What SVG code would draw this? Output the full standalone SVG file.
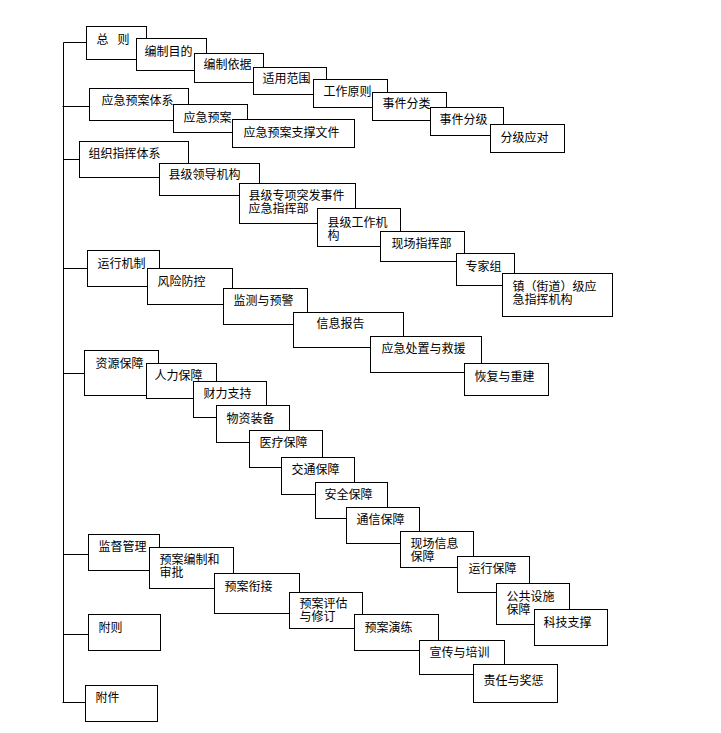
<svg xmlns="http://www.w3.org/2000/svg" width="721" height="733" viewBox="0 0 721 733">
<style>
rect{fill:#fff;stroke:#000;stroke-width:1}
.c line{stroke:#000;stroke-width:1}
text{font-family:"Noto Sans CJK SC","Liberation Sans",sans-serif;font-size:12px;fill:#000}
</style>
<rect x="0" y="0" width="721" height="733" style="stroke:none"/>
<g transform="translate(0.5 0.5)">
<g id="connectors" class="c">
<line x1="63" y1="42" x2="63" y2="702"/>
<line x1="63" y1="42" x2="86" y2="42"/>
<line x1="62" y1="106" x2="89" y2="106"/>
<line x1="63" y1="159" x2="79" y2="159"/>
<line x1="63" y1="268" x2="87" y2="268"/>
<line x1="63" y1="373" x2="84" y2="373"/>
<line x1="63" y1="554" x2="88" y2="554"/>
<line x1="63" y1="634" x2="88" y2="634"/>
<line x1="62" y1="702" x2="85" y2="702"/>
</g>
<g id="n-zongze"><rect x="86" y="26" width="60" height="33"/><text y="43"><tspan x="96">总</tspan><tspan x="117">则</tspan></text></g>
<g id="n-bianzhimudi"><rect x="136" y="38" width="70" height="32"/><text x="144" y="55">编制目的</text></g>
<g id="n-bianzhiyiju"><rect x="194" y="53" width="69" height="29"/><text x="203" y="68.5">编制依据</text></g>
<g id="n-shiyongfanwei"><rect x="253" y="67" width="73" height="27"/><text x="262" y="82.5">适用范围</text></g>
<g id="n-gongzuoyuanze"><rect x="313" y="79" width="74" height="28"/><text x="323" y="95.5">工作原则</text></g>
<g id="n-shijianfenlei"><rect x="372" y="92" width="74" height="28"/><text x="382" y="107.5">事件分类</text></g>
<g id="n-shijianfenji"><rect x="430" y="107" width="73" height="28"/><text x="439" y="123.5">事件分级</text></g>
<g id="n-fenjiyingdui"><rect x="490" y="124" width="74" height="28"/><text x="500" y="141.5">分级应对</text></g>

<g id="n-yjyatx"><rect x="89" y="88" width="99" height="32"/><text x="101" y="104.5">应急预案体系</text></g>
<g id="n-yjya"><rect x="173" y="104" width="74" height="28"/><text x="183" y="121.5">应急预案</text></g>
<g id="n-yjyazcwj"><rect x="232" y="119" width="122" height="28"/><text x="243" y="136.5">应急预案支撑文件</text></g>

<g id="n-zzzhtx"><rect x="79" y="141" width="109" height="36"/><text x="88" y="157.5">组织指挥体系</text></g>
<g id="n-xjldjg"><rect x="159" y="163" width="100" height="32"/><text x="168" y="178.5">县级领导机构</text></g>
<g id="n-xjzxtfsj"><rect x="239" y="183" width="116" height="40"/><text x="248" y="199"><tspan x="248">县级专项突发事件</tspan><tspan x="248" dy="13.5">应急指挥部</tspan></text></g>
<g id="n-xjgzjg"><rect x="317" y="208" width="83" height="38"/><text x="327" y="226"><tspan x="327">县级工作机</tspan><tspan x="327" dy="13">构</tspan></text></g>
<g id="n-xczhb"><rect x="380" y="231" width="84" height="30"/><text x="391" y="247.5">现场指挥部</text></g>
<g id="n-zjz"><rect x="456" y="253" width="58" height="32"/><text x="465" y="270.5">专家组</text></g>
<g id="n-zjdj"><rect x="502" y="273" width="110" height="43"/><text x="512" y="290"><tspan x="512">镇（街道）级应</tspan><tspan x="512" dy="13.5">急指挥机构</tspan></text></g>

<g id="n-yxjz"><rect x="87" y="250" width="72" height="36"/><text x="97" y="267.5">运行机制</text></g>
<g id="n-fxfk"><rect x="147" y="268" width="85" height="36"/><text x="157" y="285.5">风险防控</text></g>
<g id="n-jcyyj"><rect x="223" y="288" width="84" height="36"/><text x="233" y="304.5">监测与预警</text></g>
<g id="n-xxbg"><rect x="293" y="312" width="110" height="35"/><text x="316" y="327.5">信息报告</text></g>
<g id="n-yjczyjy"><rect x="370" y="336" width="111" height="36"/><text x="381" y="352.5">应急处置与救援</text></g>
<g id="n-hfycj"><rect x="464" y="363" width="84" height="32"/><text x="474" y="380.5">恢复与重建</text></g>

<g id="n-zybz"><rect x="84" y="350" width="74" height="45"/><text x="95" y="367.5">资源保障</text></g>
<g id="n-rlbz"><rect x="146" y="363" width="70" height="35"/><text x="154" y="379.5">人力保障</text></g>
<g id="n-clzc"><rect x="193" y="381" width="73" height="36"/><text x="203" y="397.5">财力支持</text></g>
<g id="n-wzzb"><rect x="216" y="405" width="73" height="37"/><text x="226" y="422.5">物资装备</text></g>
<g id="n-ylbz"><rect x="249" y="430" width="73" height="37"/><text x="259" y="446.5">医疗保障</text></g>
<g id="n-jtbz"><rect x="281" y="457" width="73" height="37"/><text x="291" y="473.5">交通保障</text></g>
<g id="n-aqbz"><rect x="315" y="482" width="72" height="36"/><text x="324" y="498.5">安全保障</text></g>
<g id="n-txbz"><rect x="346" y="507" width="73" height="36"/><text x="356" y="523.5">通信保障</text></g>
<g id="n-xcxxbz"><rect x="400" y="531" width="73" height="36"/><text x="410" y="547"><tspan x="410">现场信息</tspan><tspan x="410" dy="13">保障</tspan></text></g>
<g id="n-yxbz"><rect x="457" y="556" width="72" height="36"/><text x="468" y="572.5">运行保障</text></g>
<g id="n-ggsshbz"><rect x="496" y="583" width="73" height="41"/><text x="506" y="600"><tspan x="506">公共设施</tspan><tspan x="506" dy="13">保障</tspan></text></g>
<g id="n-kjzc"><rect x="534" y="609" width="73" height="36"/><text x="543" y="626.5">科技支撑</text></g>

<g id="n-jdgl"><rect x="88" y="534" width="71" height="36"/><text x="98" y="550.5">监督管理</text></g>
<g id="n-yabzhsp"><rect x="149" y="547" width="84" height="41"/><text x="159" y="563"><tspan x="159">预案编制和</tspan><tspan x="159" dy="13.5">审批</tspan></text></g>
<g id="n-yaxj"><rect x="214" y="573" width="85" height="40"/><text x="224" y="590.5">预案衔接</text></g>
<g id="n-yapgyxd"><rect x="289" y="592" width="73" height="36"/><text x="299" y="607.5"><tspan x="299">预案评估</tspan><tspan x="299" dy="13">与修订</tspan></text></g>
<g id="n-yayl"><rect x="354" y="614" width="84" height="36"/><text x="364" y="631.5">预案演练</text></g>
<g id="n-xcypx"><rect x="419" y="640" width="85" height="34"/><text x="429" y="656.5">宣传与培训</text></g>
<g id="n-zryjc"><rect x="473" y="664" width="84" height="38"/><text x="483" y="684.5">责任与奖惩</text></g>

<g id="n-fuze"><rect x="88" y="614" width="72" height="36"/><text x="98" y="631.5">附则</text></g>
<g id="n-fujian"><rect x="85" y="685" width="72" height="36"/><text x="95" y="701.5">附件</text></g>
</g>
</svg>
